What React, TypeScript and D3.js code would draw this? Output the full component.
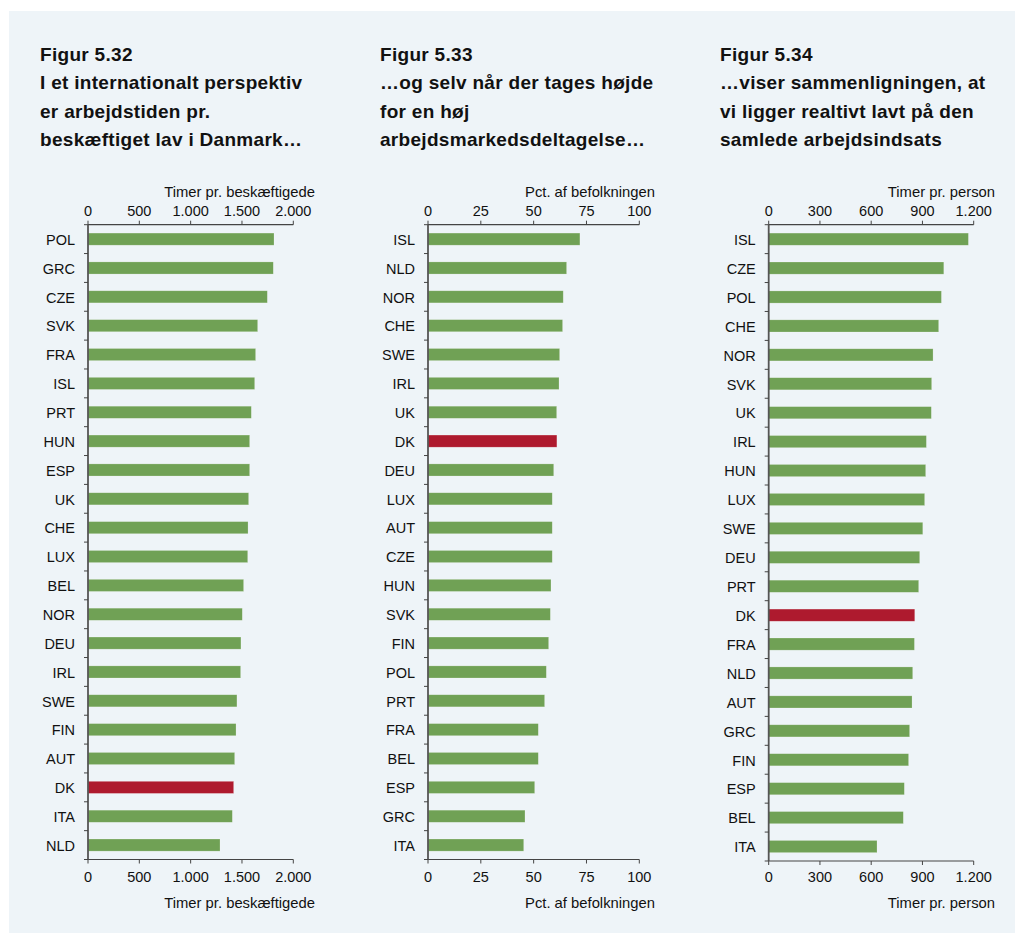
import React from "react";
import * as d3 from "d3";

const cats1 = ["POL","GRC","CZE","SVK","FRA","ISL","PRT","HUN","ESP","UK","CHE","LUX","BEL","NOR","DEU","IRL","SWE","FIN","AUT","DK","ITA","NLD"];
const vals1 = [1812,1805,1747,1653,1633,1624,1591,1575,1575,1565,1559,1556,1516,1503,1490,1487,1451,1442,1429,1419,1406,1286];
const cats2 = ["ISL","NLD","NOR","CHE","SWE","IRL","UK","DK","DEU","LUX","AUT","CZE","HUN","SVK","FIN","POL","PRT","FRA","BEL","ESP","GRC","ITA"];
const vals2 = [71.9,65.6,64.0,63.7,62.3,62.0,60.9,61.0,59.5,58.8,58.8,58.8,58.2,57.9,57.1,56.0,55.2,52.2,52.2,50.5,45.9,45.3];
const cats3 = ["ISL","CZE","POL","CHE","NOR","SVK","UK","IRL","HUN","LUX","SWE","DEU","PRT","DK","FRA","NLD","AUT","GRC","FIN","ESP","BEL","ITA"];
const vals3 = [1169,1025,1011,995,962,954,952,923,919,913,902,884,878,855,853,843,839,825,819,794,788,634];

const ticks1 = [0,500,1000,1500,2000];
const ticks2 = [0,25,50,75,100];
const ticks3 = [0,300,600,900,1200];

const titles1 = ["Figur 5.32","I et internationalt perspektiv","er arbejdstiden pr.","beskæftiget lav i Danmark…"];
const titles2 = ["Figur 5.33","…og selv når der tages højde","for en høj","arbejdsmarkedsdeltagelse…"];
const titles3 = ["Figur 5.34","…viser sammenligningen, at","vi ligger realtivt lavt på den","samlede arbejdsindsats"];

const unit1 = "Timer pr. beskæftigede";
const unit2 = "Pct. af befolkningen";
const unit3 = "Timer pr. person";

const GREEN = "#70A155";
const RED = "#AE1A2E";
const BG = "#EEF4F8";
const FONT = "'Liberation Sans', Arimo, Helvetica, sans-serif";

const locale = d3.formatLocale({ decimal: ",", thousands: ".", grouping: [3], currency: ["", " kr."] });
const fmt = locale.format(",d");

type PanelProps = {
  cats: string[]; vals: number[]; ticks: number[]; titles: string[]; unit: string;
  titleX: number; x0: number; x1: number; unitRight: number; y0: number; y1: number;
};

function Panel({ cats, vals, ticks, titles, unit, titleX, x0, x1, unitRight, y0, y1 }: PanelProps) {
  const x = d3.scaleLinear().domain([ticks[0], ticks[ticks.length - 1]]).range([x0, x1]);
  const y = d3.scaleBand().domain(cats).range([y0, y1]).paddingInner(0.58).paddingOuter(0.29);
  const step = (y1 - y0) / cats.length;
  const axisColor = "#444";
  return (
    <g fontFamily={FONT}>
      {titles.map((t, i) => (
        <text key={i} x={titleX} y={61 + i * 28.3} fontSize={19} letterSpacing={0.3} fontWeight="bold" fill="#111">{t}</text>
      ))}
      <text x={unitRight} y={197} fontSize={14.8} textAnchor="end" fill="#111">{unit}</text>
      <text x={unitRight} y={908} fontSize={14.8} textAnchor="end" fill="#111">{unit}</text>
      {/* top axis */}
      <line x1={x0} x2={x1} y1={y0} y2={y0} stroke={axisColor} strokeWidth={1.2} />
      {ticks.map((t) => (
        <g key={"tt" + t}>
          <line x1={x(t)} x2={x(t)} y1={y0} y2={y0 - 4} stroke={axisColor} strokeWidth={1} />
          <text x={x(t)} y={216} fontSize={14.5} textAnchor="middle" fill="#111">{fmt(t)}</text>
          <line x1={x(t)} x2={x(t)} y1={y1} y2={y1 + 4} stroke={axisColor} strokeWidth={1} />
          <text x={x(t)} y={882} fontSize={14.5} textAnchor="middle" fill="#111">{fmt(t)}</text>
        </g>
      ))}
      <line x1={x0} x2={x1} y1={y1} y2={y1} stroke={axisColor} strokeWidth={1.2} />
      {/* bars */}
      {cats.map((c, i) => (
        <rect key={c} x={x(0)} y={y(c)!} width={x(vals[i]) - x(0)} height={y.bandwidth()}
          fill={c === "DK" ? RED : GREEN} stroke="#ffffff" strokeOpacity={0.35} strokeWidth={0.6} />
      ))}
      {/* left axis */}
      <line x1={x0} x2={x0} y1={y0} y2={y1} stroke="#555" strokeWidth={1.8} />
      {d3.range(cats.length + 1).map((i) => (
        <line key={"lt" + i} x1={x0} x2={x0 - 4} y1={y0 + i * step} y2={y0 + i * step} stroke={axisColor} strokeWidth={1} />
      ))}
      {cats.map((c) => (
        <text key={"l" + c} x={x0 - 13} y={y(c)! + y.bandwidth() / 2} dy="0.4em" fontSize={14.5} textAnchor="end" fill="#111">{c}</text>
      ))}
    </g>
  );
}

export default function App() {
  return (
    <svg width={1015} height={933} style={{ position: "absolute", left: 0, top: 0, background: "#ffffff" }}>
      <rect x={9} y={11} width={1006} height={922} fill={BG} />
      <Panel cats={cats1} vals={vals1} ticks={ticks1} titles={titles1} unit={unit1}
        titleX={40} x0={88} x1={293.3} unitRight={315} y0={224.7} y1={859.5} />
      <Panel cats={cats2} vals={vals2} ticks={ticks2} titles={titles2} unit={unit2}
        titleX={380} x0={428} x1={639.3} unitRight={655} y0={224.7} y1={859.5} />
      <Panel cats={cats3} vals={vals3} ticks={ticks3} titles={titles3} unit={unit3}
        titleX={720} x0={768.7} x1={973.7} unitRight={995} y0={224.7} y1={861} />
    </svg>
  );
}
